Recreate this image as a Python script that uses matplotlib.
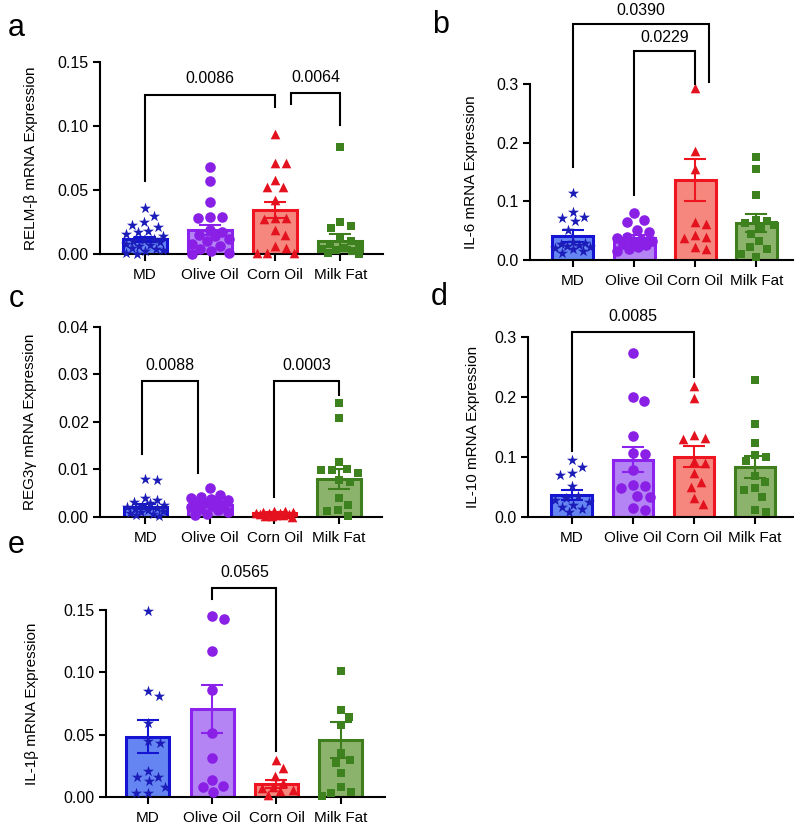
import numpy as np
import matplotlib
matplotlib.use("Agg")
import matplotlib.pyplot as plt

plt.rcParams['font.family'] = ['Liberation Sans', 'DejaVu Sans']

groups = ["MD", "Olive Oil", "Corn Oil", "Milk Fat"]

# ---------------- Panel a : RELM-beta ----------------
a_md = [0.036, 0.030, 0.025, 0.023, 0.021, 0.018, 0.017, 0.016, 0.014, 0.012, 0.011,
        0.010, 0.009, 0.008, 0.007, 0.006, 0.005, 0.004, 0.003, 0.002, 0.001, 0.000]
a_olive = [0.068, 0.057, 0.041, 0.029, 0.029, 0.028, 0.019, 0.017, 0.015, 0.014, 0.012,
           0.010, 0.008, 0.006, 0.004, 0.002, 0.001, 0.000]
a_corn = [0.094, 0.071, 0.071, 0.058, 0.052, 0.052, 0.042, 0.028, 0.028, 0.027, 0.019,
          0.015, 0.006, 0.005, 0.0005, 0.0005, 0.0005]
a_milk = [0.084, 0.025, 0.022, 0.020, 0.012, 0.010, 0.008, 0.006, 0.005, 0.004, 0.003,
          0.002, 0.001, 0.000]
a_mean = [0.0115, 0.019, 0.0346, 0.0105]
a_sem = [0.0020, 0.004, 0.0064, 0.0050]

# ---------------- Panel b : IL-6 ----------------
b_md = [0.115, 0.082, 0.073, 0.071, 0.067, 0.051, 0.030, 0.029, 0.027, 0.026, 0.024,
        0.022, 0.020, 0.018, 0.015, 0.012]
b_olive = [0.080, 0.068, 0.064, 0.052, 0.048, 0.040, 0.038, 0.035, 0.033, 0.031, 0.028,
           0.025, 0.022, 0.018, 0.016]
b_corn = [0.293, 0.186, 0.156, 0.065, 0.061, 0.042, 0.040, 0.038, 0.022, 0.019]
b_milk = [0.176, 0.155, 0.111, 0.068, 0.066, 0.063, 0.060, 0.055, 0.045, 0.032, 0.022,
          0.018, 0.010, 0.005]
b_mean = [0.041, 0.037, 0.136, 0.063]
b_sem = [0.010, 0.005, 0.036, 0.015]

# ---------------- Panel c : REG3-gamma ----------------
c_md = [0.0080, 0.0078, 0.0040, 0.0036, 0.0031, 0.0028, 0.0025, 0.0023, 0.0020, 0.0018,
        0.0016, 0.0014, 0.0012, 0.0010, 0.0008, 0.0006, 0.0004, 0.0002]
c_olive = [0.0060, 0.0045, 0.0042, 0.0040, 0.0038, 0.0035, 0.0032, 0.0030, 0.0028, 0.0025,
           0.0022, 0.0020, 0.0017, 0.0014, 0.0010, 0.0006, 0.0003]
c_corn = [0.0012, 0.0011, 0.0010, 0.0009, 0.0008, 0.0008, 0.0007, 0.0006, 0.0005, 0.0004,
          0.0003, 0.0002, 0.0001, 0.0000]
c_milk = [0.0240, 0.0208, 0.0116, 0.0100, 0.0099, 0.0098, 0.0093, 0.0078, 0.0074, 0.0039,
          0.0025, 0.0014, 0.0013, 0.0001]
c_mean = [0.0021, 0.0025, 0.0007, 0.0080]
c_sem = [0.0005, 0.0004, 0.0002, 0.0021]

# ---------------- Panel d : IL-10 ----------------
d_md = [0.094, 0.083, 0.072, 0.070, 0.051, 0.034, 0.031, 0.028, 0.025, 0.020, 0.016,
        0.012, 0.008]
d_olive = [0.272, 0.199, 0.193, 0.134, 0.106, 0.105, 0.078, 0.053, 0.051, 0.047, 0.034,
           0.033, 0.015, 0.011]
d_corn = [0.217, 0.197, 0.136, 0.131, 0.130, 0.093, 0.090, 0.072, 0.058, 0.050, 0.031, 0.021]
d_milk = [0.228, 0.154, 0.123, 0.103, 0.100, 0.092, 0.067, 0.058, 0.047, 0.044, 0.033,
          0.011, 0.007]
d_mean = [0.036, 0.095, 0.100, 0.083]
d_sem = [0.008, 0.021, 0.018, 0.018]

# ---------------- Panel e : IL-1beta ----------------
e_md = [0.149, 0.085, 0.081, 0.059, 0.045, 0.043, 0.021, 0.016, 0.016, 0.013, 0.008,
        0.003, 0.003]
e_olive = [0.145, 0.143, 0.117, 0.086, 0.051, 0.031, 0.014, 0.009, 0.008, 0.004]
e_corn = [0.030, 0.023, 0.017, 0.011, 0.008, 0.007, 0.006, 0.005, 0.002]
e_milk = [0.101, 0.070, 0.064, 0.058, 0.035, 0.030, 0.027, 0.019, 0.008, 0.004, 0.003, 0.001]
e_mean = [0.0485, 0.0705, 0.0105, 0.0455]
e_sem = [0.013, 0.0195, 0.0035, 0.0145]

# brackets: (x1, x2, y_bar, y_leg1, y_leg2, label, y_text)
a_brackets = [(0, 2, 0.124, 0.057, 0.115, "0.0086", 0.137),
              (2.25, 3, 0.126, 0.117, 0.101, "0.0064", 0.138)]
b_brackets = [(0, 2.23, 0.402, 0.159, 0.303, "0.0390", 0.425),
              (1, 2, 0.356, 0.111, 0.300, "0.0229", 0.380)]
c_brackets = [(-0.05, 0.82, 0.0285, 0.0132, 0.0092, "0.0088", 0.0318),
              (2, 3, 0.0285, 0.0042, 0.0257, "0.0003", 0.0318)]
d_brackets = [(0, 2, 0.308, 0.110, 0.233, "0.0085", 0.333)]
e_brackets = [(1, 2, 0.168, 0.159, 0.037, "0.0565", 0.180)]

fills = ["#6586f2", "#b484f4", "#f5877e", "#8cb36c"]
edges = ["#1414d2", "#8c22ee", "#ee1420", "#3f7e1c"]
mcols = ["#1c1cb8", "#8a20e6", "#e3121e", "#3e821f"]
markers = ["*", "o", "^", "s"]
msizes = [70, 58, 48, 40]
mdiam = [12, 12, 11, 11]

fig = plt.figure(figsize=(8, 8.25), dpi=100)

panels = [
    dict(pos=[0.125, 0.6921, 0.354, 0.2327], xlim=(-0.69, 3.66), ylim=(0, 0.15),
         yt=[0, 0.05, 0.10, 0.15], fmt="{:.2f}", data=[a_md, a_olive, a_corn, a_milk],
         mean=a_mean, sem=a_sem, br=a_brackets, ylabel="RELM-β mRNA Expression",
         lab_off=62, letter="a", lpos=(8, 28)),
    dict(pos=[0.6625, 0.6848, 0.329, 0.2133], xlim=(-0.70, 3.6), ylim=(0, 0.3),
         yt=[0, 0.1, 0.2, 0.3], fmt="{:.1f}", data=[b_md, b_olive, b_corn, b_milk],
         mean=b_mean, sem=b_sem, br=b_brackets, ylabel="IL-6 mRNA Expression",
         lab_off=52, letter="b", lpos=(432, 25)),
    dict(pos=[0.125, 0.3737, 0.353, 0.2303], xlim=(-0.70, 3.67), ylim=(0, 0.04),
         yt=[0, 0.01, 0.02, 0.03, 0.04], fmt="{:.2f}", data=[c_md, c_olive, c_corn, c_milk],
         mean=c_mean, sem=c_sem, br=c_brackets, ylabel="REG3γ mRNA Expression",
         lab_off=63, letter="c", lpos=(9, 299)),
    dict(pos=[0.66, 0.3737, 0.331, 0.2182], xlim=(-0.72, 3.62), ylim=(0, 0.3),
         yt=[0, 0.1, 0.2, 0.3], fmt="{:.1f}", data=[d_md, d_olive, d_corn, d_milk],
         mean=d_mean, sem=d_sem, br=d_brackets, ylabel="IL-10 mRNA Expression",
         lab_off=48, letter="d", lpos=(431, 297)),
    dict(pos=[0.1325, 0.0339, 0.349, 0.2267], xlim=(-0.65, 3.69), ylim=(0, 0.15),
         yt=[0, 0.05, 0.10, 0.15], fmt="{:.2f}", data=[e_md, e_olive, e_corn, e_milk],
         mean=e_mean, sem=e_sem, br=e_brackets, ylabel="IL-1β mRNA Expression",
         lab_off=67, letter="e", lpos=(8, 545)),
]

W, H = 800, 825
BAR_W = 0.67


def swarm(values, diam_px, px_per_x, px_per_y, half_w_px):
    order = np.argsort(values)[::-1]
    placed = []
    offsets = np.zeros(len(values))
    cands = np.arange(0, half_w_px + 0.01, 0.5)
    cand_list = [0.0]
    for c in cands[1:]:
        cand_list += [c, -c]
    for i in order:
        y = values[i] * px_per_y
        best, best_score = 0.0, -1
        for c in cand_list:
            if not placed:
                best = c
                break
            dmin = min(np.hypot(c - px, y - py) for px, py in placed)
            if dmin >= diam_px:
                best = c
                break
            if dmin > best_score:
                best_score = dmin
                best = c
        placed.append((best, y))
        offsets[i] = best / px_per_x
    return offsets


for p in panels:
    ax = fig.add_axes(p["pos"])
    x = np.arange(len(groups))
    ax.set_xlim(*p["xlim"])
    ax.set_ylim(*p["ylim"])
    w_px = p["pos"][2] * W
    h_px = p["pos"][3] * H
    px_per_x = w_px / (p["xlim"][1] - p["xlim"][0])
    px_per_y = h_px / (p["ylim"][1] - p["ylim"][0])

    ax.bar(x, p["mean"], width=BAR_W, color=fills, edgecolor=edges, linewidth=2.2, zorder=1)
    for i in range(4):
        ax.errorbar(x[i], p["mean"][i], yerr=p["sem"][i], color=edges[i], capsize=8,
                    capthick=1.5, elinewidth=1.5, zorder=2, fmt="none")
        vals = np.array(p["data"][i])
        offs = swarm(vals, mdiam[i], px_per_x, px_per_y, BAR_W / 2 * px_per_x - 3)
        ax.scatter(x[i] + offs, vals, marker=markers[i], s=msizes[i], color=mcols[i],
                   linewidths=0, zorder=3, clip_on=False)

    for (x1, x2, yb, y1, y2, lab, yt) in p["br"]:
        ax.plot([x1, x1, x2, x2], [y1, yb, yb, y2], color="black", lw=1.5,
                clip_on=False, solid_joinstyle="miter", zorder=4)
        ax.text((x1 + x2) / 2, yt, lab, ha="center", va="center", fontsize=11.5,
                clip_on=False)

    ax.spines["top"].set_visible(False)
    ax.spines["right"].set_visible(False)
    for s in ["left", "bottom"]:
        ax.spines[s].set_linewidth(1.5)
    ax.set_xticks(x)
    ax.set_xticklabels(groups, fontsize=11)
    ax.set_yticks(p["yt"])
    ax.set_yticklabels([p["fmt"].format(v) for v in p["yt"]], fontsize=11.5)
    ax.tick_params(axis="both", direction="out", length=5, width=1.5, pad=3)
    ax.tick_params(axis="x", pad=5)
    ax.set_ylabel(p["ylabel"], fontsize=11)
    ax.yaxis.set_label_coords(-p["lab_off"] / w_px, 0.5)
    fig.text(p["lpos"][0] / W, 1 - p["lpos"][1] / H, p["letter"], fontsize=22,
             ha="left", va="center")

fig.savefig("out.png", dpi=100)
